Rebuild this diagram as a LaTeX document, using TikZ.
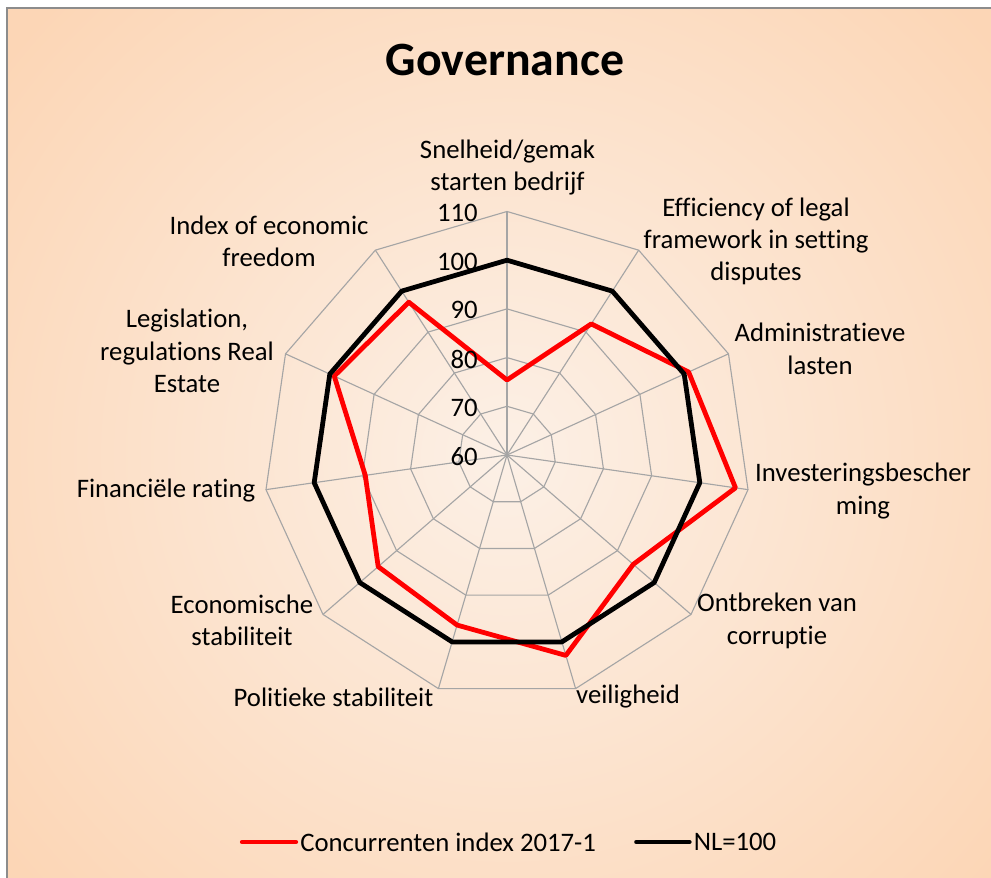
\documentclass[tikz,border=0pt]{standalone}
\usepackage{fontspec}
\setmainfont[Ligatures={NoCommon}]{Carlito}
\usetikzlibrary{positioning}
\definecolor{peach}{RGB}{252,214,182}
\definecolor{peachlight}{RGB}{252,240,230}
\definecolor{framegray}{RGB}{140,140,140}
\definecolor{webgray}{RGB}{165,165,165}
\definecolor{seriesred}{RGB}{255,0,0}

\begin{document}
\begin{tikzpicture}[
    x=0.025cm, y=0.025cm,
    web/.style={draw=webgray, line width=0.8pt},
    series/.style={line width=3.4pt, line join=round},
    lbl/.style={align=center, inner sep=0pt, font=\fontsize{19}{23}\selectfont},
    ticklbl/.style={anchor=east, inner sep=0pt, font=\fontsize{19}{23}\selectfont}
]
    \useasboundingbox (0,0) rectangle (991,878);

    % Chart area
    \begin{scope}
        \clip (7,-10) rectangle (1000,870);
        \fill[peach] (7,-10) rectangle (1000,870);
        \shade[inner color=peachlight, outer color=peach] (507,423) circle (640);
    \end{scope}
    \draw[framegray, line width=1.4pt] (7,-10) rectangle (1000,870);

    \node[font=\fontsize{34}{40}\selectfont\bfseries, inner sep=0pt] (title) at (505,818) {Governance};

    % Web and series
    \begin{scope}[shift={(507,423)}]
        \foreach \i in {1,...,5}
            \draw[web] (90:48.7*\i) \foreach \k in {1,...,10} { -- ({90-\k*360/11}:48.7*\i) } -- cycle;
        \foreach \k in {0,...,10}
            \draw[web] (0,0) -- ({90-\k*360/11}:243.5);

        \foreach \v [count=\k from 0] in {75.4,92,101,107.4,94.3,102.9,96.4,95,89.4,99,97.3}
            \coordinate (r\k) at ({90-\k*360/11}:{(\v-60)*4.87});
        \foreach \k in {0,...,10}
            \coordinate (n\k) at ({90-\k*360/11}:194.8);

        \draw[series, seriesred] (r0) -- (r1) -- (r2) -- (r3) -- (r4) -- (r5) -- (r6) -- (r7) -- (r8) -- (r9) -- (r10) -- cycle;
        \draw[series, black] (n0) -- (n1) -- (n2) -- (n3) -- (n4) -- (n5) -- (n6) -- (n7) -- (n8) -- (n9) -- (n10) -- cycle;

        \foreach \v [count=\i from 0] in {60,70,80,90,100,110}
            \node[ticklbl] (t\v) at (-29,{48.7*\i-1.5}) {\v};
    \end{scope}

    % Axis labels
    \node[lbl] (snelheid) at (507.5,710.5) {Snelheid/gemak\\starten bedrijf};
    \node[lbl] (efficiency) at (756,636.5) {Efficiency of legal\\framework in setting\\disputes};
    \node[lbl] (admin) at (820,529) {Administratieve\\lasten};
    \node[lbl] (invest) at (863,387) {Investeringsbescher\\ming};
    \node[lbl] (corruptie) at (777,257) {Ontbreken van\\corruptie};
    \node[lbl] (veiligheid) at (628,181) {veiligheid};
    \node[lbl] (politiek) at (333.5,181) {Politieke stabiliteit};
    \node[lbl] (economisch) at (242,257.5) {Economische\\stabiliteit};
    \node[lbl] (rating) at (166,387) {Financiële rating};
    \node[lbl] (legislation) at (187,527) {Legislation,\\regulations Real\\Estate};
    \node[lbl] (freedom) at (269,636.5) {Index of economic\\freedom};

    % Legend
    \coordinate (redstart) at (242,36);
    \coordinate[right=1.35cm of redstart] (redend);
    \node[lbl, right=0.1cm of redend] (redtext) {Concurrenten index 2017-1};
    \coordinate[right=1.0cm of redtext] (blackstart);
    \coordinate[right=1.33cm of blackstart] (blackend);
    \node[lbl, right=0.1cm of blackend] (blacktext) {NL=100};
    \draw[series, seriesred, line width=3pt, line cap=round] (redstart) -- (redend);
    \draw[series, black, line width=3pt, line cap=round] (blackstart) -- (blackend);

\end{tikzpicture}
\end{document}
